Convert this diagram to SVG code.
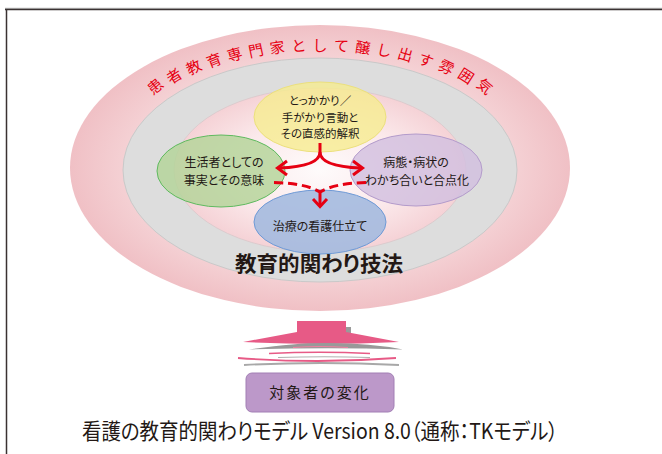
<svg xmlns="http://www.w3.org/2000/svg" width="662" height="454" viewBox="0 0 662 454">
<defs>
<radialGradient id="gOuter" cx="50%" cy="50%" r="50%">
<stop offset="0.75" stop-color="#f5d3d6"/>
<stop offset="1" stop-color="#f0c0c5"/>
</radialGradient>
<radialGradient id="gInner" cx="50%" cy="50%" r="50%">
<stop offset="0" stop-color="#fefbfb"/>
<stop offset="0.6" stop-color="#fbe9eb"/>
<stop offset="1" stop-color="#f5d2d6"/>
</radialGradient>
</defs>
<style>
.jp{font-family:"Noto Sans CJK JP","Noto Sans CJK SC",sans-serif;font-feature-settings:"palt";}
.node{font-size:12px;fill:#231815;text-anchor:middle;}
.arc{font-size:15px;fill:#e60012;text-anchor:middle;}
.red{stroke:#e60012;stroke-width:3;fill:none;}
.dash{stroke-dasharray:9 5;}
</style>
<rect width="662" height="454" fill="#ffffff"/>
<!-- frame -->
<g id="frame">
<line x1="5" y1="8.3" x2="662" y2="8.3" stroke="#aaaaaa" stroke-width="1"/>
<line x1="5" y1="9.5" x2="662" y2="9.5" stroke="#3a3232" stroke-width="1.5"/>
<line x1="6.5" y1="9" x2="6.5" y2="454" stroke="#3a3232" stroke-width="1.5"/>
</g>
<!-- layered ellipses -->
<g id="atmosphere">
<ellipse cx="320" cy="168" rx="250" ry="143" fill="url(#gOuter)"/>
</g>
<g id="atmosphere-label" class="jp arc">
<text transform="translate(155.1,86.3) rotate(-40)" y="5.6">患</text>
<text transform="translate(174,75.9) rotate(-32.7)" y="5.6">者</text>
<text transform="translate(193.6,67.2) rotate(-26.6)" y="5.6">教</text>
<text transform="translate(214,60.2) rotate(-21.2)" y="5.6">育</text>
<text transform="translate(234.7,54.6) rotate(-16.5)" y="5.6">専</text>
<text transform="translate(255.8,50.4) rotate(-12.1)" y="5.6">門</text>
<text transform="translate(277.1,47.4) rotate(-7.9)" y="5.6">家</text>
<text transform="translate(298.5,45.6) rotate(-3.9)" y="5.6">と</text>
<text transform="translate(320,45)" y="5.6">し</text>
<text transform="translate(341.5,45.6) rotate(3.9)" y="5.6">て</text>
<text transform="translate(362.9,47.4) rotate(7.9)" y="5.6">醸</text>
<text transform="translate(384.2,50.4) rotate(12.1)" y="5.6">し</text>
<text transform="translate(405.3,54.6) rotate(16.5)" y="5.6">出</text>
<text transform="translate(426,60.2) rotate(21.2)" y="5.6">す</text>
<text transform="translate(446.4,67.2) rotate(26.6)" y="5.6">雰</text>
<text transform="translate(466,75.9) rotate(32.7)" y="5.6">囲</text>
<text transform="translate(484.9,86.3) rotate(40)" y="5.6">気</text>
</g>
<g id="technique-ring">
<ellipse cx="320" cy="170" rx="197" ry="112" fill="#dddddd" stroke="#c9c9c9" stroke-width="1"/>
</g>
<g id="inner-field">
<ellipse cx="320" cy="170" rx="146" ry="82" fill="url(#gInner)" stroke="#d8c8ca" stroke-width="0.8"/>
</g>
<!-- nodes -->
<g id="node-top">
<ellipse cx="320" cy="117" rx="66" ry="35" fill="#f6ec90" fill-opacity="0.8" stroke="#ece07c" stroke-width="1"/>
<text class="jp node" style="font-size:11.5px"><tspan x="320" y="105">とっかかり／</tspan><tspan x="320" y="121.7">手がかり言動と</tspan><tspan x="320" y="138.4">その直感的解釈</tspan></text>
</g>
<g id="node-left">
<ellipse cx="221" cy="171" rx="64" ry="36" fill="#b3d498" fill-opacity="0.82" stroke="#5fba5f" stroke-width="1"/>
<text class="jp node"><tspan x="224" y="167">生活者としての</tspan><tspan x="224" y="184.5">事実とその意味</tspan></text>
</g>
<g id="node-right">
<ellipse cx="416" cy="170" rx="66" ry="36" fill="#d2bfdf" fill-opacity="0.82" stroke="#b39bcb" stroke-width="1"/>
<text class="jp node"><tspan x="416" y="167">病態・病状の</tspan><tspan x="417" y="184.5">わかち合いと合点化</tspan></text>
</g>
<g id="node-bottom">
<ellipse cx="320" cy="222" rx="66" ry="32" fill="#a4badf" fill-opacity="0.9" stroke="#6f9ad6" stroke-width="1"/>
<text class="jp node" x="320" y="231">治療の看護仕立て</text>
</g>
<!-- connectors -->
<g id="connectors">
<path class="red" d="M320,143 V152 C320,162 306,167 279,168"/>
<path class="red" d="M320,152 C320,162 334,167 361,168"/>
<polyline class="red" points="287,161 277.5,168 287,175"/>
<polyline class="red" points="353,161 362.5,168 353,175"/>
<path class="red dash" d="M274,182.5 C295,183 310,186 320,192"/>
<path class="red dash" d="M366,182.5 C345,183 330,186 320,192"/>
<path class="red" d="M320,192 V205"/>
<polyline class="red" points="313,199 320,206.5 327,199"/>
</g>
<g id="title">
<text class="jp" x="319" y="271" font-size="21" font-weight="bold" fill="#231815" text-anchor="middle" textLength="168" lengthAdjust="spacingAndGlyphs">教育的関わり技法</text>
</g>
<!-- bottom arrow -->
<g id="change-arrow">
<rect x="346" y="327" width="5" height="6" fill="#9a9a9a"/>
<path d="M297,321 H346 V332 L399,342 Q320,346 243,342 L297,332 Z" fill="#e75a86"/>
<path d="M249,349.5 Q300,342 330,343 Q370,343 403,349.5 Q330,347 249,349.5 Z" fill="#999999"/>
<path d="M293,347.5 Q320,345.5 348,347.5" stroke="#ef7fa0" stroke-width="1.2" fill="none"/>
<path d="M269,353.5 Q320,351 370,353.5" stroke="#e75a86" stroke-width="1.5" fill="none"/>
<path d="M238,358 Q318,364 396,358" stroke="#e75a86" stroke-width="1.8" fill="none"/>
<path d="M278,357.5 Q325,356 370,357.5" stroke="#b0b0b0" stroke-width="1.2" fill="none"/>
<path d="M244,365 Q320,361 399,365" stroke="#a8a8a8" stroke-width="1.8" fill="none"/>
</g>
<g id="node-change">
<rect x="246" y="373" width="148" height="39" rx="6" fill="#bc98c9" stroke="#a27fb4" stroke-width="1"/>
<text class="jp" x="320" y="398" font-size="15" fill="#231815" text-anchor="middle" letter-spacing="2">対象者の変化</text>
</g>
<g id="caption">
<text class="jp" x="82" y="439" font-size="22" fill="#231815" textLength="476" lengthAdjust="spacingAndGlyphs">看護の教育的関わりモデル Version 8.0（通称：TKモデル）</text>
</g>
</svg>
